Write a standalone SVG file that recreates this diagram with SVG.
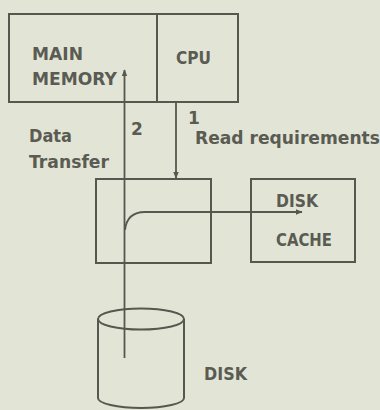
<svg xmlns="http://www.w3.org/2000/svg" width="380" height="410" viewBox="0 0 380 410">
<defs>
<style>
.box{fill:none;stroke:#56574f;stroke-width:2}
.ln{fill:none;stroke:#56574f;stroke-width:1.8}
.t{font-family:"DejaVu Sans","Liberation Sans",sans-serif;font-weight:bold;font-size:17px;fill:#5a5b53}
</style>
<marker id="ah" viewBox="0 0 10 10" refX="9" refY="5" markerWidth="7" markerHeight="7" orient="auto" markerUnits="userSpaceOnUse">
<path d="M0,1 L10,5 L0,9 Z" fill="#56574f"/>
</marker>
</defs>
<rect width="380" height="410" fill="#e2e5d6"/>
<g id="main-memory">
<rect class="box" x="9" y="14" width="148" height="88"/>
<text class="t" x="32" y="60" textLength="51" lengthAdjust="spacingAndGlyphs">MAIN</text>
<text class="t" x="32" y="85" textLength="85" lengthAdjust="spacingAndGlyphs">MEMORY</text>
</g>
<g id="cpu">
<rect class="box" x="157" y="14" width="81" height="88"/>
<text class="t" x="176" y="64" textLength="35" lengthAdjust="spacingAndGlyphs">CPU</text>
</g>
<g id="controller">
<rect class="box" x="96" y="179" width="115" height="84"/>
</g>
<g id="disk-cache">
<rect class="box" x="251" y="179" width="104" height="83"/>
<text class="t" x="276" y="207" textLength="42" lengthAdjust="spacingAndGlyphs">DISK</text>
<text class="t" x="276" y="246" textLength="56" lengthAdjust="spacingAndGlyphs">CACHE</text>
</g>
<g id="disk">
<path class="box" d="M98,319 V398 A43,10 0 0 0 184,398 V319"/>
<ellipse class="box" cx="141" cy="319" rx="43" ry="10.5"/>
<text class="t" x="204" y="380" textLength="43" lengthAdjust="spacingAndGlyphs">DISK</text>
</g>
<g id="connectors">
<line class="ln" x1="124.5" y1="358" x2="124.5" y2="70" marker-end="url(#ah)"/>
<line class="ln" x1="176" y1="102" x2="176" y2="178" marker-end="url(#ah)"/>
<path class="ln" d="M125,230 Q127,212 145,212 H302" marker-end="url(#ah)"/>
</g>
<g id="labels">
<text class="t" x="131" y="135">2</text>
<text class="t" x="188" y="124">1</text>
<text class="t" x="195" y="144" textLength="185" lengthAdjust="spacingAndGlyphs">Read requirements</text>
<text class="t" x="29" y="142" textLength="43" lengthAdjust="spacingAndGlyphs">Data</text>
<text class="t" x="29" y="168" textLength="80" lengthAdjust="spacingAndGlyphs">Transfer</text>
</g>
</svg>
